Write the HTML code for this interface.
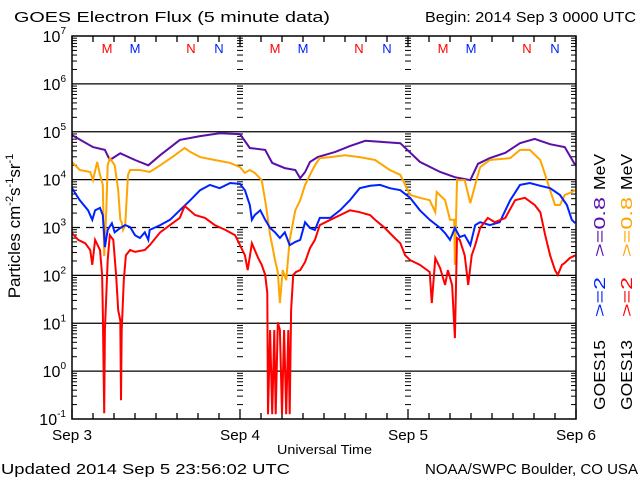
<!DOCTYPE html>
<html><head><meta charset="utf-8"><style>
html,body{margin:0;padding:0;background:#fff;}
svg{display:block;font-family:"Liberation Sans",sans-serif;}
</style></head><body>
<svg id="c" width="640" height="480" xmlns="http://www.w3.org/2000/svg">
<text x="14" y="22" font-size="15" textLength="316" lengthAdjust="spacingAndGlyphs">GOES Electron Flux (5 minute data)</text>
<text x="425" y="22" font-size="15" textLength="211" lengthAdjust="spacingAndGlyphs">Begin: 2014 Sep 3 0000 UTC</text>
<text x="1" y="474" font-size="15" textLength="289" lengthAdjust="spacingAndGlyphs">Updated 2014 Sep  5 23:56:02 UTC</text>
<text x="425" y="474" font-size="15" textLength="213" lengthAdjust="spacingAndGlyphs">NOAA/SWPC Boulder, CO USA</text>
<text x="277" y="454" font-size="13" textLength="95" lengthAdjust="spacingAndGlyphs">Universal Time</text>
<text transform="translate(20,226) rotate(-90)" font-size="17" text-anchor="middle">Particles cm<tspan dy="-7" font-size="11">-2</tspan><tspan dy="7">s</tspan><tspan dy="-7" font-size="11">-1</tspan><tspan dy="7">sr</tspan><tspan dy="-7" font-size="11">-1</tspan></text>
<g id="legend" font-size="16">
<text transform="translate(605,410) rotate(-90)" textLength="70" lengthAdjust="spacingAndGlyphs">GOES15</text>
<text transform="translate(632,410) rotate(-90)" textLength="70" lengthAdjust="spacingAndGlyphs">GOES13</text>
<text transform="translate(605,317) rotate(-90)" fill="#0022ff" textLength="40" lengthAdjust="spacingAndGlyphs">&gt;=2</text>
<text transform="translate(632,317) rotate(-90)" fill="#ff0000" textLength="40" lengthAdjust="spacingAndGlyphs">&gt;=2</text>
<text transform="translate(605,257) rotate(-90)" fill="#5a0fa8" textLength="60" lengthAdjust="spacingAndGlyphs">&gt;=0.8</text>
<text transform="translate(632,257) rotate(-90)" fill="#ffa500" textLength="60" lengthAdjust="spacingAndGlyphs">&gt;=0.8</text>
<text transform="translate(605,190) rotate(-90)" textLength="36" lengthAdjust="spacingAndGlyphs">MeV</text>
<text transform="translate(632,190) rotate(-90)" textLength="36" lengthAdjust="spacingAndGlyphs">MeV</text>
</g>
</svg>
<script>
const dayLabels = ["Sep 3","Sep 4","Sep 5","Sep 6"];
const decadeExps = [-1,0,1,2,3,4,5,6,7];
const markerLetters = ["M","M","N","N"];
const markerHours = [5,9,17,21];
const markerColors = ["#ff0000","#0022ff","#ff0000","#0022ff"];
const p15_08_t = [0,3.0,4.7,5.4,6.9,9.0,10.9,12.6,15.4,18.3,21.1,24.0,25.4,27.6,28.6,30.4,31.9,32.6,33.3,34.0,35.1,37.6,39.7,41.9,44.0,46.9,49.7,52.6,54.7,56.9,58.0,59.7,61.9,64.0,66.1,68.3,70.4,71.9];
const p15_08_v = [4.93,4.68,4.62,4.41,4.55,4.41,4.30,4.51,4.83,4.91,4.97,4.95,4.66,4.62,4.35,4.24,4.20,4.03,4.16,4.37,4.47,4.58,4.70,4.81,4.79,4.76,4.37,4.16,4.05,3.99,4.33,4.45,4.56,4.76,4.85,4.74,4.68,4.30];
const p13_08_t = [0,1.1,2.6,3.0,3.6,4.0,4.4,4.6,4.9,5.1,5.4,6.1,6.6,6.9,7.1,7.3,7.6,8.0,8.3,9.7,11.1,12.6,14.7,16.1,16.9,18.3,20.4,22.6,24.0,24.7,25.4,26.1,27.1,27.7,28.3,28.6,29.0,29.4,29.7,30.1,30.6,31.1,31.9,32.6,33.3,34.0,34.7,35.4,36.9,39.0,41.1,43.3,45.4,46.9,47.6,48.3,49.7,51.1,51.9,52.1,53.3,54.0,54.6,54.7,55.0,56.1,56.9,57.6,58.3,59.7,62.6,64.0,65.4,66.9,67.6,68.3,69.0,69.7,70.4,71.1,71.9];
const p13_08_v = [4.37,4.20,4.16,3.99,4.37,4.10,3.89,2.40,3.36,4.30,4.45,4.30,3.78,3.16,3.11,2.95,3.05,4.10,4.20,4.20,4.16,4.30,4.51,4.66,4.58,4.47,4.41,4.35,4.26,4.14,4.20,4.14,3.99,3.47,2.84,2.63,2.32,2.07,1.42,2.11,1.90,2.74,3.36,3.57,3.89,4.10,4.30,4.45,4.47,4.51,4.47,4.41,4.20,4.10,3.89,3.68,3.62,3.57,3.32,3.74,3.57,3.16,3.16,2.22,3.99,3.99,3.51,3.89,4.26,4.41,4.45,4.62,4.62,4.41,4.10,3.78,3.47,3.47,3.68,3.72,3.78];
const p15_2_t = [0,1.1,2.3,2.9,3.3,4.0,4.4,4.7,5.1,5.7,6.1,6.9,7.6,8.3,9.0,9.7,10.4,10.9,11.1,12.6,14.0,15.4,16.9,18.3,19.7,21.1,22.6,24.0,24.7,25.4,25.7,26.1,26.9,27.6,28.3,29.0,29.7,30.4,31.1,31.9,32.6,33.3,34.0,34.7,35.4,36.9,38.3,39.7,41.1,42.6,44.0,45.4,46.9,48.3,49.7,51.1,52.6,53.3,54.0,54.7,55.4,56.1,56.9,57.6,58.3,59.7,61.1,62.6,64.0,65.4,66.9,68.3,69.7,70.7,71.4,71.9];
const p15_2_v = [3.82,3.57,3.36,3.16,3.36,3.41,3.26,2.59,2.95,3.09,2.90,2.99,3.05,3.01,2.84,2.78,2.90,2.74,2.95,3.05,3.16,3.36,3.57,3.78,3.89,3.82,3.93,3.91,3.78,3.47,3.16,3.26,3.36,3.16,2.99,2.90,2.78,2.90,2.63,2.70,2.74,3.11,2.99,2.95,3.20,3.20,3.36,3.57,3.82,3.87,3.89,3.82,3.78,3.62,3.36,3.16,2.99,2.88,2.74,2.99,2.80,2.84,2.63,3.05,3.11,3.05,3.11,3.57,3.89,3.93,3.87,3.82,3.68,3.47,3.16,3.09];
const p13_2_t = [0,0.9,1.9,2.6,2.9,3.3,4.0,4.3,4.4,4.6,4.7,5.1,5.4,5.9,6.3,6.6,6.9,7.0,7.1,7.4,7.7,8.3,9.0,10.4,11.1,12.6,14.0,15.4,16.1,17.6,19.0,20.4,21.9,23.3,24.0,24.7,25.1,25.7,26.6,27.1,27.6,27.9,28.0,28.3,28.6,28.9,29.1,29.4,29.7,30.0,30.3,30.6,30.9,31.1,31.3,31.6,32.0,32.6,33.3,34.0,34.7,35.4,36.9,38.3,39.7,41.1,42.6,43.3,44.7,46.1,46.9,47.6,48.3,49.7,51.1,51.4,51.9,52.6,53.3,53.7,54.3,54.7,55.0,55.4,56.1,56.6,57.1,57.6,58.3,59.4,60.4,61.9,63.3,64.7,66.1,66.9,67.6,68.3,69.0,69.4,70.0,70.4,71.1,71.9];
const p13_2_v = [2.88,2.74,2.67,2.53,2.22,2.74,2.53,2.01,1.27,-0.88,0.86,2.32,2.84,2.74,2.01,1.27,1.06,-0.61,0.86,1.90,2.42,2.53,2.49,2.53,2.63,2.90,3.05,3.20,3.45,3.26,3.20,3.05,2.95,2.84,2.63,2.42,2.11,2.67,2.36,2.22,2.01,1.63,-0.90,0.86,-0.90,0.86,-0.90,1.02,0.86,-0.90,0.86,-0.90,0.86,-0.90,1.27,2.01,2.07,2.11,2.28,2.57,2.74,3.05,3.16,3.26,3.36,3.32,3.26,3.16,2.99,2.78,2.67,2.42,2.32,2.22,2.07,1.42,2.36,2.15,1.80,2.11,1.80,0.69,2.78,2.74,2.42,1.80,2.42,2.63,2.99,3.20,3.11,3.20,3.57,3.62,3.47,3.32,2.84,2.42,2.11,2.01,2.22,2.26,2.36,2.42];

const X0=72,X1=576,Y0=36,Y1=419;
function xs(h){return X0+(X1-X0)*h/72;}
function ys(l){return Y1-(Y1-Y0)*(l+1)/8;}
const svg=document.getElementById('c');
const NS='http://www.w3.org/2000/svg';
function mk(tag,attrs,parent){const e=document.createElementNS(NS,tag);for(const k in attrs)e.setAttribute(k,attrs[k]);(parent||svg).appendChild(e);return e;}

decadeExps.forEach((e,i)=>{
  if(e===-1||e===7) return;
  const g=mk('line',{x1:X0,x2:X1,y1:ys(e),y2:ys(e),stroke:'#000','stroke-width':1.3,'stroke-dasharray':e===3?'8,6':'none'});
  
  
});
decadeExps.forEach(e=>{
  const t=mk('text',{x:X0-6,y:ys(e)+6,'font-size':16,'text-anchor':'end'});
  
  
  t.textContent='10';
  const s=mk('tspan',{dy:-8,'font-size':10},t);s.textContent=String(e);
});
const tickCols=[[X0,1],[X1,-1],[xs(24),0],[xs(48),0]];
tickCols.forEach(([cx,dir])=>{
  for(let e=-1;e<7;e++){
    for(let m=2;m<=9;m++){
      const y=ys(e+Math.log10(m));
      const x1=dir===0?cx-3:cx, x2=dir===0?cx+3:cx+dir*5;
      const l=mk('line',{x1:x1,x2:x2,y1:y,y2:y,stroke:'#000','stroke-width':1});
      
      
    }
  }
});
for(let h=0;h<=72;h+=3){
  const x=xs(h);const len=(h%24===0)?10:6;
  const a=mk('line',{x1:x,x2:x,y1:Y1,y2:Y1-len,stroke:'#000','stroke-width':1.3});
  
  
  const b=mk('line',{x1:x,x2:x,y1:Y0,y2:Y0+len,stroke:'#000','stroke-width':1.3});
  
  
}
dayLabels.forEach((d,i)=>{
  const t=mk('text',{x:xs(i*24),y:440,'font-size':15,'text-anchor':'middle',textLength:40,lengthAdjust:'spacingAndGlyphs'});
  
  
  t.textContent=d;
});
for(let day=0;day<3;day++){
  markerLetters.forEach((L,i)=>{
    const t=mk('text',{x:xs(day*24+markerHours[i]),y:53,'font-size':13,'text-anchor':'middle',fill:markerColors[i]});
    
    
    t.textContent=L;
  });
}
const series=[[p15_08_t,p15_08_v,'#5a0fa8','series-goes15-08mev'],[p13_08_t,p13_08_v,'#ffa500','series-goes13-08mev'],[p15_2_t,p15_2_v,'#0022ff','series-goes15-2mev'],[p13_2_t,p13_2_v,'#ff0000','series-goes13-2mev']];
series.forEach(([t,v,c,n])=>{
  const pts=t.map((h,i)=>xs(h).toFixed(1)+','+ys(v[i]).toFixed(1)).join(' ');
  const pl=mk('polyline',{points:pts,fill:'none',stroke:c,'stroke-width':2,'stroke-linejoin':'miter'});
  
  
});
const fr=mk('rect',{x:X0,y:Y0,width:X1-X0,height:Y1-Y0,fill:'none',stroke:'#000','stroke-width':1.5});


</script>
</body></html>
